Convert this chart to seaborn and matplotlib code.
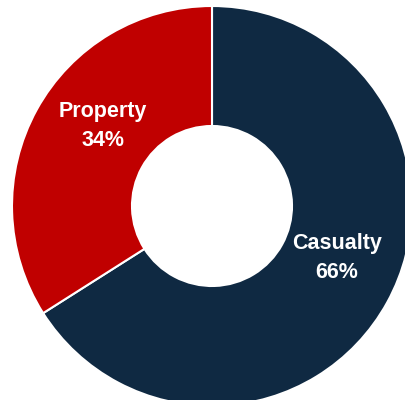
import matplotlib
matplotlib.use("Agg")
import matplotlib.pyplot as plt
import seaborn as sns

categories = ["Casualty", "Property"]
shares = [66, 34]
colors = ["#0F2942", "#C00000"]
label_pos = [(337, 142), (103, 274)]

sns.set_style("white")
plt.rcParams['font.family'] = ['Liberation Sans', 'DejaVu Sans']

fig = plt.figure(figsize=(4.05, 4.0), dpi=100)
ax = fig.add_axes([0, 0, 1, 1])
ax.pie(shares, colors=colors, startangle=90, counterclock=False,
       radius=200, center=(212, 194),
       wedgeprops=dict(width=120, edgecolor="white", linewidth=1.5))
for cat, val, (x, y) in zip(categories, shares, label_pos):
    ax.text(x, y, f"{cat}\n{val}%", ha="center", va="center", color="white",
            fontsize=15.5, fontweight="bold", linespacing=1.5)
ax.set_xlim(0, 405)
ax.set_ylim(0, 400)
ax.set_aspect("equal")
ax.axis("off")
fig.savefig("out.png", dpi=100)
